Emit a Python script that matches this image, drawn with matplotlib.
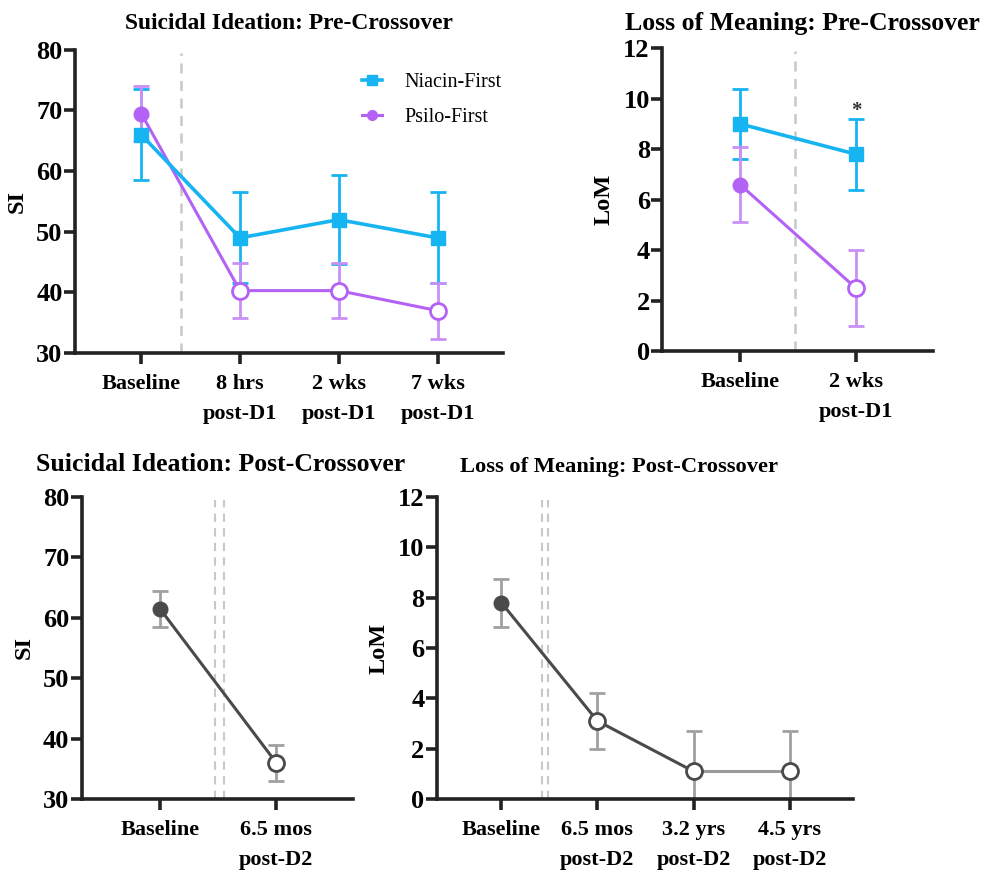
import matplotlib.pyplot as plt
from matplotlib.lines import Line2D
import numpy as np

plt.rcParams['font.family'] = ['Liberation Serif', 'DejaVu Serif']
plt.rcParams['font.weight'] = 'bold'

CYAN = '#17b4f2'
PURPLE = '#b462f5'
PURPLE_ERR = '#c991f7'
DARK = '#4a4a4a'
LIGHT = '#a0a0a0'

# pre-crossover, suicidal ideation
si_pre_labels = ['Baseline', '8 hrs\npost-D1', '2 wks\npost-D1', '7 wks\npost-D1']
si_niacin = [66.0, 49.0, 52.0, 49.0]
si_niacin_err = [7.5, 7.5, 7.3, 7.5]
si_psilo = [69.5, 40.3, 40.3, 37.0]
si_psilo_err = [4.5, 4.5, 4.5, 4.6]

# pre-crossover, loss of meaning
lom_pre_labels = ['Baseline', '2 wks\npost-D1']
lom_niacin = [9.0, 7.8]
lom_niacin_err = [1.4, 1.4]
lom_psilo = [6.6, 2.5]
lom_psilo_err = [1.5, 1.5]

# post-crossover
si_post_labels = ['Baseline', '6.5 mos\npost-D2']
si_post = [61.5, 36.0]
si_post_err = [3.0, 3.0]

lom_post_labels = ['Baseline', '6.5 mos\npost-D2', '3.2 yrs\npost-D2', '4.5 yrs\npost-D2']
lom_post = [7.8, 3.1, 1.1, 1.1]
lom_post_err = [0.95, 1.1, 1.6, 1.6]

EB = dict(fmt='none', elinewidth=2, capsize=6, capthick=2, zorder=2)


def style_axes(ax, labels, ylim, yticks, ylabel, title, tsize, tx, tpad):
    ax.spines['top'].set_visible(False)
    ax.spines['right'].set_visible(False)
    for side in ('left', 'bottom'):
        ax.spines[side].set_linewidth(2.6)
        ax.spines[side].set_color('#222222')
    ax.set_xticks(range(len(labels)))
    ax.set_xticklabels(labels, fontsize=16, fontweight='bold', linespacing=1.65)
    ax.set_xlim(-0.67, len(labels) - 1 + 0.66)
    ax.set_ylim(*ylim)
    ax.set_yticks(yticks)
    ax.set_yticklabels([str(t) for t in yticks], fontsize=19, fontweight='bold')
    ax.tick_params(axis='both', width=2.6, length=8, color='#222222')
    ax.tick_params(axis='x', pad=7)
    ax.tick_params(axis='y', pad=1)
    ax.set_ylabel(ylabel, fontsize=17.5, fontweight='bold', labelpad=6)
    ax.set_title(title, fontsize=tsize, fontweight='bold', pad=tpad, x=tx)


fig = plt.figure(figsize=(9.9, 8.74), dpi=100)

# top left
ax1 = fig.add_axes([0.0758, 0.596, 0.432, 0.347])
x = np.arange(len(si_niacin))
ax1.axvline(0.4, ymax=0.99, color='#c8c8c8', ls=(0, (4, 3)), lw=1.8, zorder=1)
ax1.errorbar(x, si_niacin, yerr=si_niacin_err, ecolor=CYAN, **EB)
ax1.errorbar(x, si_psilo, yerr=si_psilo_err, ecolor=PURPLE_ERR, **EB)
ax1.plot(x, si_niacin, color=CYAN, lw=2.6, marker='s', ms=10.5, zorder=4)
ax1.plot(x, si_psilo, color=PURPLE, lw=2.2, zorder=3)
ax1.plot(x[:1], si_psilo[:1], ls='none', marker='o', ms=10.5, color=PURPLE, zorder=5)
ax1.plot(x[1:], si_psilo[1:], ls='none', marker='o', ms=11.5, mfc='white',
         mec=PURPLE, mew=2, zorder=5)
style_axes(ax1, si_pre_labels, (30, 80), [30, 40, 50, 60, 70, 80], 'SI',
           'Suicidal Ideation: Pre-Crossover', 16.9, 0.5, 15)
handles = [Line2D([], [], color=CYAN, lw=2.6, marker='s', ms=7),
           Line2D([], [], color=PURPLE, lw=2.2, marker='o', ms=7)]
ax1.legend(handles, ['Niacin-First', 'Psilo-First'], loc='upper right',
           bbox_to_anchor=(1.04, 0.985), frameon=False, handlelength=1.0,
           prop={'family': 'Liberation Serif', 'weight': 'normal', 'size': 14.5},
           labelspacing=0.8, handletextpad=1.1)

# top right
ax2 = fig.add_axes([0.669, 0.598, 0.273, 0.347])
x = np.arange(len(lom_niacin))
ax2.axvline(0.47, ymax=0.99, color='#c8c8c8', ls=(0, (4, 3)), lw=1.8, zorder=1)
ax2.errorbar(x, lom_niacin, yerr=lom_niacin_err, ecolor=CYAN, **EB)
ax2.errorbar(x, lom_psilo, yerr=lom_psilo_err, ecolor=PURPLE_ERR, **EB)
ax2.plot(x, lom_niacin, color=CYAN, lw=2.6, marker='s', ms=10.5, zorder=4)
ax2.plot(x, lom_psilo, color=PURPLE, lw=2.2, zorder=3)
ax2.plot(x[:1], lom_psilo[:1], ls='none', marker='o', ms=10.5, color=PURPLE, zorder=5)
ax2.plot(x[1:], lom_psilo[1:], ls='none', marker='o', ms=11.5, mfc='white',
         mec=PURPLE, mew=2, zorder=5)
ax2.text(1, 9.5, '*', ha='center', va='center', fontsize=15, color='#333333')
style_axes(ax2, lom_pre_labels, (0, 12), [0, 2, 4, 6, 8, 10, 12], 'LoM',
           'Loss of Meaning: Pre-Crossover', 18.5, 0.52, 13)

# bottom left
ax3 = fig.add_axes([0.0828, 0.0858, 0.2738, 0.3456])
x = np.arange(len(si_post))
for xv in (0.47, 0.55):
    ax3.axvline(xv, ymax=0.99, color='#c8c8c8', ls=(0, (4, 3)), lw=1.5, zorder=1)
ax3.errorbar(x, si_post, yerr=si_post_err, ecolor=LIGHT, **EB)
ax3.plot(x, si_post, color=DARK, lw=2.2, zorder=3)
ax3.plot(x[:1], si_post[:1], ls='none', marker='o', ms=10.5, color=DARK, zorder=5)
ax3.plot(x[1:], si_post[1:], ls='none', marker='o', ms=11.5, mfc='white',
         mec=DARK, mew=2, zorder=5)
style_axes(ax3, si_post_labels, (30, 80), [30, 40, 50, 60, 70, 80], 'SI',
           'Suicidal Ideation: Post-Crossover', 18.5, 0.51, 19)

# bottom right
ax4 = fig.add_axes([0.4414, 0.0858, 0.4202, 0.3456])
x = np.arange(len(lom_post))
for xv in (0.42, 0.49):
    ax4.axvline(xv, ymax=0.99, color='#c8c8c8', ls=(0, (4, 3)), lw=1.5, zorder=1)
ax4.errorbar(x, lom_post, yerr=lom_post_err, ecolor=LIGHT, **EB)
ax4.plot(x[:3], lom_post[:3], color=DARK, lw=2.2, zorder=3)
ax4.plot(x[2:], lom_post[2:], color='#9a9a9a', lw=2.2, zorder=3)
ax4.plot(x[:1], lom_post[:1], ls='none', marker='o', ms=10.5, color=DARK, zorder=5)
ax4.plot(x[1:], lom_post[1:], ls='none', marker='o', ms=11.5, mfc='white',
         mec=DARK, mew=2, zorder=5)
style_axes(ax4, lom_post_labels, (0, 12), [0, 2, 4, 6, 8, 10, 12], 'LoM',
           'Loss of Meaning: Post-Crossover', 16.2, 0.4375, 18)

fig.savefig('out.png', dpi=100)
